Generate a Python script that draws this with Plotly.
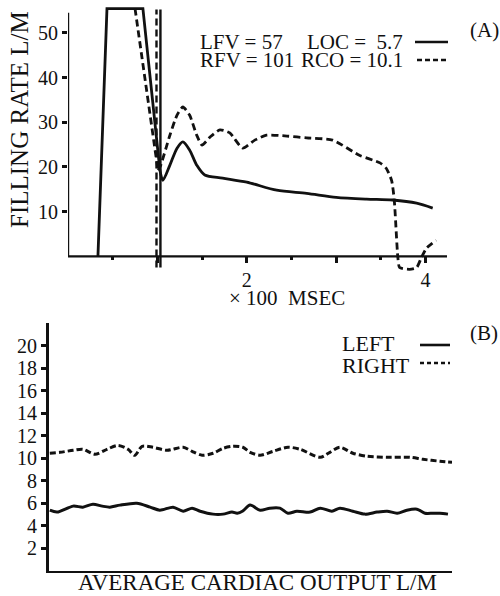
import plotly.graph_objects as go

# ---------------- (A) filling-rate curves, x in units of 100 msec ----------------
LEFT_RAMP_X = [0.335, 0.436, 0.838, 1.028]
LEFT_RAMP_Y = [0, 55.4, 55.4, 19.3]
LEFT_CURVE_X = [1.028, 1.061, 1.14, 1.22, 1.285, 1.36, 1.44, 1.53, 1.73, 2.0, 2.335, 2.67, 3.0, 3.34, 3.63, 3.9, 4.08]
LEFT_CURVE_Y = [19.3, 17.0, 20.4, 24.2, 25.6, 23.8, 20.4, 18.2, 17.5, 16.6, 14.8, 14.1, 13.2, 12.8, 12.6, 11.9, 10.8]

RIGHT_RAMP_X = [0.75, 1.006]
RIGHT_RAMP_Y = [55.4, 19.3]
RIGHT_CURVE_X = [1.006, 1.03, 1.14, 1.22, 1.285, 1.36, 1.44, 1.50, 1.59, 1.70, 1.81, 1.955, 2.09, 2.22,
                 2.45, 2.67, 2.96, 3.26, 3.49, 3.56, 3.62, 3.65, 3.69, 3.71, 3.82, 3.90, 3.955, 4.01, 4.12]
RIGHT_CURVE_Y = [19.3, 20.0, 27.1, 31.6, 33.4, 31.6, 27.1, 24.9, 26.7, 28.3, 27.6, 24.2, 26.0, 27.1,
                 26.9, 26.5, 26.0, 22.6, 20.9, 19.7, 17.0, 12.6, -0.2, -2.5, -2.9, -2.5, -0.2, 1.8, 3.6]

# valve-timing markers (vertical)
MARK_LEFT_X = [1.034, 1.034]
MARK_RIGHT_X = [0.99, 0.99]
MARK_Y = [-2.5, 55.2]

TOP_MAJOR_TICKS = [1, 2, 3, 4]
TOP_MAJOR_TEXT = ["", "2", "", "4"]
TOP_MINOR_TICKS = [0.5, 1.5, 2.5, 3.5]
TOP_YTICKS = [10, 20, 30, 40, 50]

# ---------------- (B) average cardiac output ----------------
LEFT_AVG_X = [0.2, 2.0, 6.0, 8.4, 10.9, 13.2, 15.1, 17.6, 21.8, 25.1, 27.5, 30.8, 33.3, 35.5, 37.5, 40.7,
              43.2, 45.4, 46.7, 48.1, 49.9, 52.4, 54.8, 57.3, 59.3, 61.5, 64.8, 67.3, 70.2, 72.2, 75.4,
              78.4, 81.4, 83.9, 86.4, 88.8, 91.3, 93.3, 95.3, 97.0, 99.0]
LEFT_AVG_Y = [5.37, 5.2, 5.73, 5.64, 5.9, 5.73, 5.64, 5.82, 5.99, 5.64, 5.37, 5.64, 5.28, 5.55, 5.28, 5.02,
              5.02, 5.2, 5.1, 5.3, 5.82, 5.37, 5.55, 5.55, 5.1, 5.28, 5.2, 5.55, 5.28, 5.55, 5.28,
              5.02, 5.2, 5.28, 5.1, 5.37, 5.46, 5.1, 5.1, 5.1, 5.02]
RIGHT_AVG_X = [0.2, 2.7, 6.0, 8.4, 11.4, 14.4, 17.1, 19.6, 21.3, 23.1, 25.8, 29.3, 33.3, 35.5, 38.0, 40.7,
               43.2, 45.7, 48.1, 49.9, 52.4, 55.6, 59.3, 62.3, 67.3, 69.7, 72.2, 75.4, 78.9, 83.9, 89.6,
               92.8, 97.0, 100.0]
RIGHT_AVG_Y = [10.43, 10.51, 10.69, 10.78, 10.34, 10.78, 11.13, 10.78, 10.25, 11.05, 10.96, 10.69, 10.96,
               10.6, 10.25, 10.43, 10.87, 11.05, 10.96, 10.51, 10.25, 10.6, 10.96, 10.78, 10.07, 10.51,
               10.96, 10.43, 10.16, 10.07, 10.07, 9.89, 9.72, 9.63]
BOTTOM_YTICKS = [2, 4, 6, 8, 10, 12, 14, 16, 18, 20]

W, H = 500, 596
FONT = "Liberation Serif, Times New Roman, serif"
BLACK = "#111111"
DASH = "7px,4px"
LW = 2.8

TOP_XDOMAIN = [0.136, 0.894]
TOP_YRANGE = [-3.5, 56]
TOP_YDOMAIN = [0.5436, 0.990]
AXIS_TOP = 54.5

fig = go.Figure()

def line(x, y, xa, ya, dash="solid", shape="linear", width=LW, smooth=1.0):
    fig.add_trace(go.Scatter(
        x=x, y=y, xaxis=xa, yaxis=ya, mode="lines", showlegend=False, hoverinfo="skip",
        line=dict(color=BLACK, width=width, dash=dash, shape=shape,
                  smoothing=smooth if shape == "spline" else None)))

# top panel
line(LEFT_RAMP_X, LEFT_RAMP_Y, "x", "y")
line(LEFT_CURVE_X, LEFT_CURVE_Y, "x", "y", shape="spline", smooth=0.8)
line(RIGHT_RAMP_X, RIGHT_RAMP_Y, "x", "y", dash=DASH)
line(RIGHT_CURVE_X, RIGHT_CURVE_Y, "x", "y", dash=DASH, shape="spline", smooth=0.6)
line(MARK_LEFT_X, MARK_Y, "x", "y", width=2.4)
line(MARK_RIGHT_X, MARK_Y, "x", "y", dash=DASH, width=2.4)

# bottom panel
line(LEFT_AVG_X, LEFT_AVG_Y, "x2", "y2", shape="spline", smooth=0.8, width=3)
line(RIGHT_AVG_X, RIGHT_AVG_Y, "x2", "y2", dash="6px,3px", shape="spline", smooth=0.8, width=3)

# x axis of panel A sits at y = 0
zero_pos = TOP_YDOMAIN[0] + (0 - TOP_YRANGE[0]) / (TOP_YRANGE[1] - TOP_YRANGE[0]) * (TOP_YDOMAIN[1] - TOP_YDOMAIN[0])

tickfont = dict(family=FONT, size=20, color=BLACK)
fig.update_layout(
    width=W, height=H, autosize=False,
    margin=dict(l=0, r=0, t=0, b=0),
    paper_bgcolor="white", plot_bgcolor="white",
    xaxis=dict(domain=TOP_XDOMAIN, range=[0, 4.24], anchor="free", position=zero_pos,
               showline=False, showgrid=False, zeroline=False,
               tickmode="array", tickvals=TOP_MAJOR_TICKS, ticktext=TOP_MAJOR_TEXT,
               ticks="outside", ticklen=6, tickwidth=2.5, tickcolor=BLACK, tickfont=tickfont,
               minor=dict(tickmode="array", tickvals=TOP_MINOR_TICKS, ticks="outside",
                          ticklen=3, tickwidth=2.5, tickcolor=BLACK, showgrid=False)),
    yaxis=dict(domain=TOP_YDOMAIN, range=TOP_YRANGE, anchor="x",
               showline=False, showgrid=False, zeroline=False,
               tickmode="array", tickvals=TOP_YTICKS,
               ticks="outside", ticklen=5, tickwidth=2.5, tickcolor=BLACK, tickfont=tickfont),
    xaxis2=dict(domain=[0.098, 0.904], range=[0, 100], anchor="y2",
                showline=True, linecolor=BLACK, linewidth=2.2, showgrid=False, zeroline=False,
                showticklabels=False, ticks=""),
    yaxis2=dict(domain=[0.0426, 0.458], range=[0, 22], anchor="x2",
                showline=True, linecolor=BLACK, linewidth=2.8, showgrid=False, zeroline=False,
                tickmode="array", tickvals=BOTTOM_YTICKS,
                ticks="outside", ticklen=5, tickwidth=2.5, tickcolor=BLACK, tickfont=tickfont),
)

# axis lines of panel A: y axis from 0 to the top of the scale, x axis along y = 0
fig.add_shape(type="line", xref="x", yref="y", x0=0, x1=0, y0=0, y1=AXIS_TOP,
              line=dict(color=BLACK, width=2.4))
fig.add_shape(type="line", xref="paper", yref="paper", layer="above",
              x0=TOP_XDOMAIN[0], x1=TOP_XDOMAIN[1], y0=zero_pos, y1=zero_pos,
              line=dict(color=BLACK, width=2.2))

def px_x(p):
    return p / W

def px_y(p):
    return 1 - p / H

def text(t, x, y, size=21, xanchor="center", angle=0):
    fig.add_annotation(text=t, x=px_x(x), y=px_y(y), xref="paper", yref="paper",
                       showarrow=False, xanchor=xanchor, yanchor="middle", textangle=angle,
                       borderpad=0, font=dict(family=FONT, size=size, color=BLACK))

text("FILLING RATE L/M", 20, 120, size=25, angle=-90)
text("× 100  MSEC", 287, 298, size=21)
text("(A)", 484, 30)
text("(B)", 484, 333)
text("LFV = 57", 199, 42, xanchor="left")
text("LOC =  5.7", 404, 42, xanchor="right")
text("RFV = 101", 199, 60, xanchor="left")
text("RCO = 10.1", 404, 60, xanchor="right")
text("LEFT", 341, 343, size=22, xanchor="left")
text("RIGHT", 341, 365, size=22, xanchor="left")
text("AVERAGE CARDIAC OUTPUT L/M", 257, 582, size=23)

def sample(x0, x1, y, dash):
    fig.add_shape(type="line", xref="paper", yref="paper", x0=px_x(x0), x1=px_x(x1),
                  y0=px_y(y), y1=px_y(y), line=dict(color=BLACK, width=2.6, dash=dash))

sample(415, 448, 42, "solid")
sample(417, 448, 60, "5px,3px")
sample(420, 450, 345, "solid")
sample(420, 450, 363, "4px,3px")

fig.write_html("out.html", config={"displayModeBar": False},
               post_script="document.body.style.margin='0px';document.body.style.overflow='hidden';")
